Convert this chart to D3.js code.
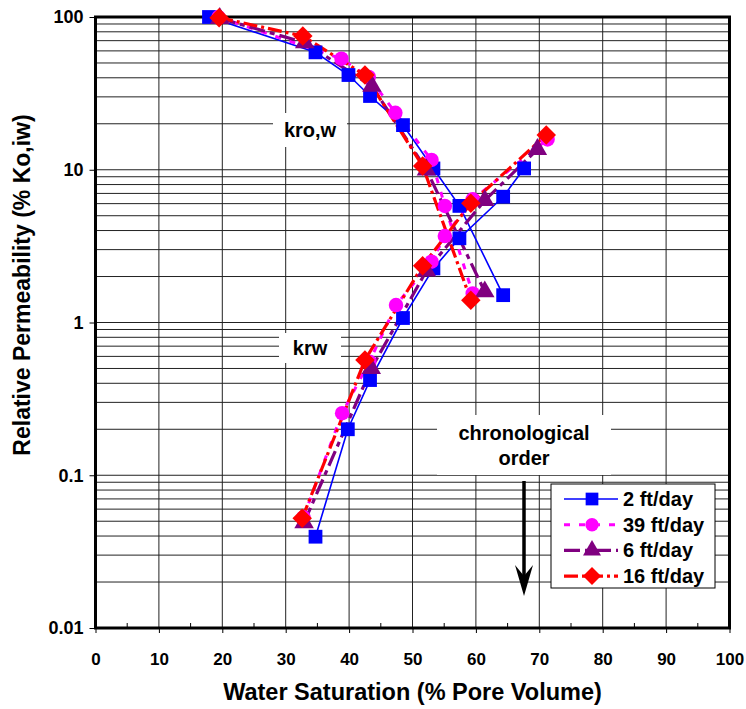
<!DOCTYPE html>
<html>
<head>
<meta charset="utf-8">
<script src="https://cdn.jsdelivr.net/npm/d3@7"></script>
<style>
  body { margin: 0; background: #fff; }
  text { font-family: "Liberation Sans", Arial, sans-serif; font-weight: bold; }
</style>
</head>
<body>
<main></main>
<script>
// readings: [water saturation %, rel perm %]
const series = ["2 ft/day", "39 ft/day", "6 ft/day", "16 ft/day"];

const kro2 = [[17.9,100],[34.7,58.7],[39.9,41.7],[43.3,30.4],[48.5,19.6],[53.3,10.2],[57.4,5.8],[64.3,1.51]];
const krw2 = [[34.7,0.0396],[39.8,0.20],[43.3,0.42],[48.5,1.07],[53.3,2.26],[57.4,3.56],[64.3,6.66],[67.6,10.2]];

const kro39 = [[19.4,100],[38.8,53.3],[43.1,40.5],[47.3,23.6],[53.0,11.6],[55.1,5.8],[59.5,1.55]];
const krw39 = [[32.8,0.053],[38.9,0.255],[43.2,0.554],[47.4,1.30],[53.0,2.50],[55.1,3.68],[59.5,6.4],[71.3,15.8]];

const kro6 = [[19.6,98],[33.0,68],[43.6,35.3],[52.2,10.0],[61.4,1.59]];
const krw6 = [[32.9,0.049],[43.5,0.50],[52.2,2.18],[61.4,6.3],[69.7,13.6]];

const kro16 = [[19.5,99],[32.7,75],[42.5,41.7],[51.6,10.6],[59.2,1.40]];
const krw16 = [[32.6,0.0523],[42.5,0.568],[51.6,2.35],[59.2,6.03],[71.1,16.9]];

const xTicks = [0,10,20,30,40,50,60,70,80,90,100];
const yTicks = [0.01,0.1,1,10,100];
const yTickLabels = ["0.01","0.1","1","10","100"];

const w = 746, h = 709;
const margin = {top: 17, right: 16, bottom: 81, left: 95.5};

// diamond = square turned 45deg, like the spreadsheet marker
const diamond = {draw(ctx, size) {
  let r = Math.sqrt(size / 2);
  ctx.moveTo(0, -r); ctx.lineTo(r, 0); ctx.lineTo(0, r); ctx.lineTo(-r, 0); ctx.closePath();
}};

const styles = {
  "2 ft/day":  {color: "#0000ff", width: 1.6, dash: null,       shape: d3.symbolSquare,   size: 190},
  "39 ft/day": {color: "#ff00ff", width: 3,   dash: "6,9",      shape: d3.symbolCircle,   size: 165},
  "6 ft/day":  {color: "#800080", width: 3.2, dash: "16,5,5,5", shape: d3.symbolTriangle, size: 165},
  "16 ft/day": {color: "#ff0000", width: 3.2, dash: "14,4,3,4", shape: diamond,           size: 190}
};

const curves = [
  {key: "2 ft/day", data: kro2}, {key: "2 ft/day", data: krw2},
  {key: "39 ft/day", data: kro39}, {key: "39 ft/day", data: krw39},
  {key: "6 ft/day", data: kro6}, {key: "6 ft/day", data: krw6},
  {key: "16 ft/day", data: kro16}, {key: "16 ft/day", data: krw16}
];

let x = d3.scaleLinear().domain([0, 100]).range([margin.left, w - margin.right - 0.5]);
let y = d3.scaleLog().domain([0.01, 100]).range([h - margin.bottom, margin.top]);

let svg = d3.select("main").append("svg")
  .attr("width", w).attr("height", h);

// grid
let minor = [];
for (let d = 0.01; d < 100; d *= 10) for (let k = 1; k < 10; k++) minor.push(+(d * k).toPrecision(3));
svg.append("g").selectAll("line").data(minor.filter(v => v > 0.01)).join("line")
  .attr("x1", x(0)).attr("x2", x(100))
  .attr("y1", d => y(d)).attr("y2", d => y(d))
  .attr("stroke", "#222").attr("stroke-width", 1);
svg.append("g").selectAll("line").data(xTicks.slice(1, -1)).join("line")
  .attr("x1", d => x(d)).attr("x2", d => x(d))
  .attr("y1", y(100)).attr("y2", y(0.01))
  .attr("stroke", "#222").attr("stroke-width", 1);

// axes
let xAxis = g => g.attr("transform", `translate(0,${y(0.01)})`)
  .call(d3.axisBottom(x).tickValues(xTicks).tickSize(5).tickPadding(20).tickFormat(d3.format("d")))
  .call(g => g.select(".domain").remove())
  .call(g => g.selectAll("text").attr("font-size", 17).attr("font-family", null).attr("fill", "#000"));
svg.append("g").call(xAxis);

// minor x ticks at 5s, inward
svg.append("g").selectAll("line").data(d3.range(5, 100, 10)).join("line")
  .attr("x1", d => x(d)).attr("x2", d => x(d))
  .attr("y1", y(0.01)).attr("y2", y(0.01) - 5)
  .attr("stroke", "#000");

let yAxis = g => g.attr("transform", `translate(${x(0)},0)`)
  .call(d3.axisLeft(y).tickValues(yTicks).tickSize(6).tickPadding(6).tickFormat((d, i) => yTickLabels[i]))
  .call(g => g.select(".domain").remove())
  .call(g => g.selectAll("text").attr("font-size", 18).attr("font-family", null).attr("fill", "#000"));
svg.append("g").call(yAxis);

// frame
svg.append("rect")
  .attr("x", x(0)).attr("y", y(100))
  .attr("width", x(100) - x(0)).attr("height", y(0.01) - y(100))
  .attr("fill", "none").attr("stroke", "#000").attr("stroke-width", 3);

// labels with white boxes
let boxLabel = (cx, cy, bw, bh, lines, size, lh) => {
  svg.append("rect").attr("x", cx - bw / 2).attr("y", cy - bh / 2)
    .attr("width", bw).attr("height", bh).attr("fill", "#fff");
  let t = svg.append("text").attr("text-anchor", "middle").attr("font-size", size);
  lines.forEach((s, i) => t.append("tspan").attr("x", cx)
    .attr("y", cy + (i - (lines.length - 1) / 2) * lh).attr("dy", "0.35em").text(s));
};
boxLabel(310, 130, 74, 34, ["kro,w"], 20, 0);
boxLabel(310, 348, 62, 30, ["krw"], 20, 0);
boxLabel(524, 445, 174, 60, ["chronological", "order"], 20, 25);

// arrow
svg.append("line").attr("x1", 524).attr("x2", 524).attr("y1", 481).attr("y2", 586)
  .attr("stroke", "#000").attr("stroke-width", 3.5);
svg.append("path").attr("d", "M524,596 L515,565 L524,576 L533,565 Z").attr("fill", "#000");

// series
let line = d3.line().x(d => x(d[0])).y(d => y(d[1]));
let cg = svg.append("g");
curves.forEach(c => {
  let s = styles[c.key];
  cg.append("path").datum(c.data)
    .attr("d", line).attr("fill", "none")
    .attr("stroke", s.color).attr("stroke-width", s.width)
    .attr("stroke-dasharray", s.dash);
});
series.forEach(key => {
  let s = styles[key];
  let pts = curves.filter(c => c.key === key).flatMap(c => c.data);
  cg.append("g").selectAll("path").data(pts).join("path")
    .attr("transform", d => `translate(${x(d[0])},${y(d[1])})`)
    .attr("d", d3.symbol(s.shape, s.size)).attr("fill", s.color);
});

// legend
let lg = svg.append("g").attr("transform", "translate(551,484)");
lg.append("rect").attr("width", 164).attr("height", 104)
  .attr("fill", "#fff").attr("stroke", "#000").attr("stroke-width", 1);
series.forEach((key, i) => {
  let s = styles[key];
  let row = lg.append("g").attr("transform", `translate(0,${15 + i * 25.7})`);
  row.append("line").attr("x1", 13).attr("x2", 67)
    .attr("stroke", s.color).attr("stroke-width", s.width).attr("stroke-dasharray", s.dash);
  row.append("path").attr("transform", "translate(41,0)")
    .attr("d", d3.symbol(s.shape, s.size * 0.85)).attr("fill", s.color);
  row.append("text").attr("x", 72).attr("dy", "0.35em").attr("font-size", 20).text(key);
});

// titles
svg.append("text").attr("x", x(50)).attr("y", 700).attr("text-anchor", "middle")
  .attr("font-size", 23.5).text("Water Saturation (% Pore Volume)");
svg.append("text").attr("transform", "translate(30,285) rotate(-90)").attr("text-anchor", "middle")
  .attr("font-size", 23).text("Relative Permeability (% Ko,iw)");
</script>
</body>
</html>
